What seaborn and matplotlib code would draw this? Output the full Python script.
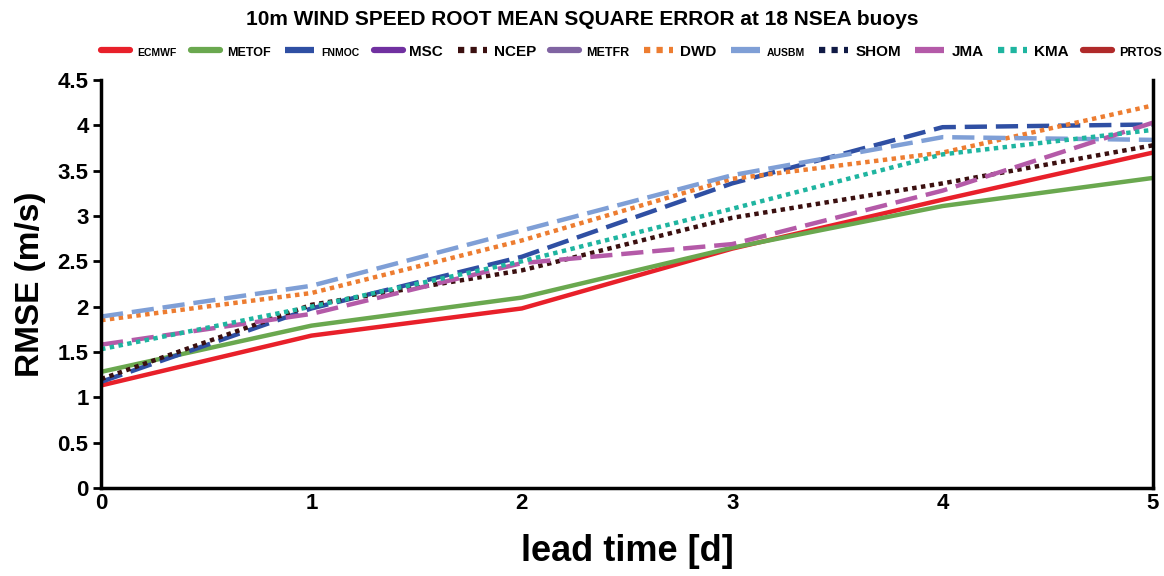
import numpy as np
import pandas as pd
import matplotlib
matplotlib.use("Agg")
import matplotlib.pyplot as plt
from matplotlib.lines import Line2D
import seaborn as sns

# lead time in days
lead_days = [0, 1, 2, 3, 4, 5]

# RMSE per centre (m/s); None = centre not drawn in the figure
ecmwf = [1.13, 1.68, 1.98, 2.64, 3.18, 3.70]
metof = [1.28, 1.79, 2.10, 2.65, 3.11, 3.42]
fnmoc = [1.17, 1.98, 2.55, 3.36, 3.98, 4.01]
msc = None
ncep = [1.20, 2.02, 2.40, 2.98, 3.36, 3.78]
metfr = None
dwd = [1.85, 2.15, 2.73, 3.41, 3.70, 4.22]
ausbm = [1.89, 2.23, 2.84, 3.45, 3.87, 3.84]
shom = None
jma = [1.58, 1.92, 2.48, 2.69, 3.28, 4.03]
kma = [1.53, 2.00, 2.50, 3.08, 3.68, 3.95]
prtos = None

centres = ["ECMWF", "METOF", "FNMOC", "MSC", "NCEP", "METFR",
           "DWD", "AUSBM", "SHOM", "JMA", "KMA", "PRTOS"]
values = [ecmwf, metof, fnmoc, msc, ncep, metfr, dwd, ausbm, shom, jma, kma, prtos]

colors = ["#e8202a", "#6aa84f", "#2f4fa3", "#7030a0", "#3b1010", "#8064a2",
          "#ed7d31", "#7f9fd6", "#101a45", "#b45aa8", "#1fb5a0", "#b02a2a"]
styles = ["solid", "solid", "dash", "solid", "dot", "solid",
          "dot", "dash", "dot", "dash", "dot", "solid"]
dash_map = {"solid": "", "dash": (5, 2), "dot": (1, 1)}
label_size = {"ECMWF": 7.5, "METOF": 9, "FNMOC": 7.5, "MSC": 11, "NCEP": 11,
              "METFR": 9, "DWD": 11, "AUSBM": 7.5, "SHOM": 11, "JMA": 11,
              "KMA": 11, "PRTOS": 9}

sns.set_theme(style="white")
plt.rcParams["font.family"] = ["Liberation Sans", "DejaVu Sans"]
plt.rcParams["text.color"] = "black"
plt.rcParams["axes.labelcolor"] = "black"
plt.rcParams["xtick.color"] = "black"
plt.rcParams["ytick.color"] = "black"

fig = plt.figure(figsize=(11.64, 5.76), dpi=100)
ax = fig.add_axes([0.0868, 0.153, 0.9037, 0.708])

handles = []
for name, vals, col, st in zip(centres, values, colors, styles):
    if vals is not None:
        df = pd.DataFrame({"lead": lead_days, "rmse": vals})
        sns.lineplot(data=df, x="lead", y="rmse", ax=ax, color=col, lw=3.2,
                     dashes=False, legend=False)
        line = ax.get_lines()[-1]
        if st != "solid":
            line.set_dashes(dash_map[st])
    h = Line2D([], [], color=col, lw=4.5)
    if st != "solid":
        h.set_dashes(dash_map[st])
    handles.append(h)

ax.set_xlim(0, 5)
ax.set_ylim(0, 4.5)
ax.set_xticks(lead_days)
ax.set_yticks(np.arange(0, 4.51, 0.5))
ax.set_yticklabels(["0", "0.5", "1", "1.5", "2", "2.5", "3", "3.5", "4", "4.5"])
ax.tick_params(axis="both", labelsize=16, width=2, length=6, direction="out")
ax.tick_params(axis="x", length=0, pad=4)
ax.tick_params(axis="y", left=True, pad=3)
for lab in ax.get_xticklabels() + ax.get_yticklabels():
    lab.set_fontweight("bold")

for side in ["left", "bottom", "right"]:
    ax.spines[side].set_color("black")
    ax.spines[side].set_linewidth(2.5)
ax.spines["top"].set_visible(False)

ax.set_xlabel("lead time [d]", fontsize=26, fontweight="bold", labelpad=14)
ax.set_ylabel("RMSE (m/s)", fontsize=24, fontweight="bold", labelpad=8)

fig.text(0.5, 0.967, "10m WIND SPEED ROOT MEAN SQUARE ERROR at 18 NSEA buoys",
         ha="center", va="center", fontsize=15, fontweight="bold")

leg = fig.legend(handles, centres, ncol=12, loc="center left", bbox_to_anchor=(0.087, 0.91),
                 frameon=False, handlelength=1.9, handletextpad=0.45, columnspacing=0.95,
                 borderpad=0, borderaxespad=0)
for txt in leg.get_texts():
    txt.set_fontweight("bold")
    txt.set_fontsize(label_size[txt.get_text()])

fig.savefig("out.png", dpi=100)
